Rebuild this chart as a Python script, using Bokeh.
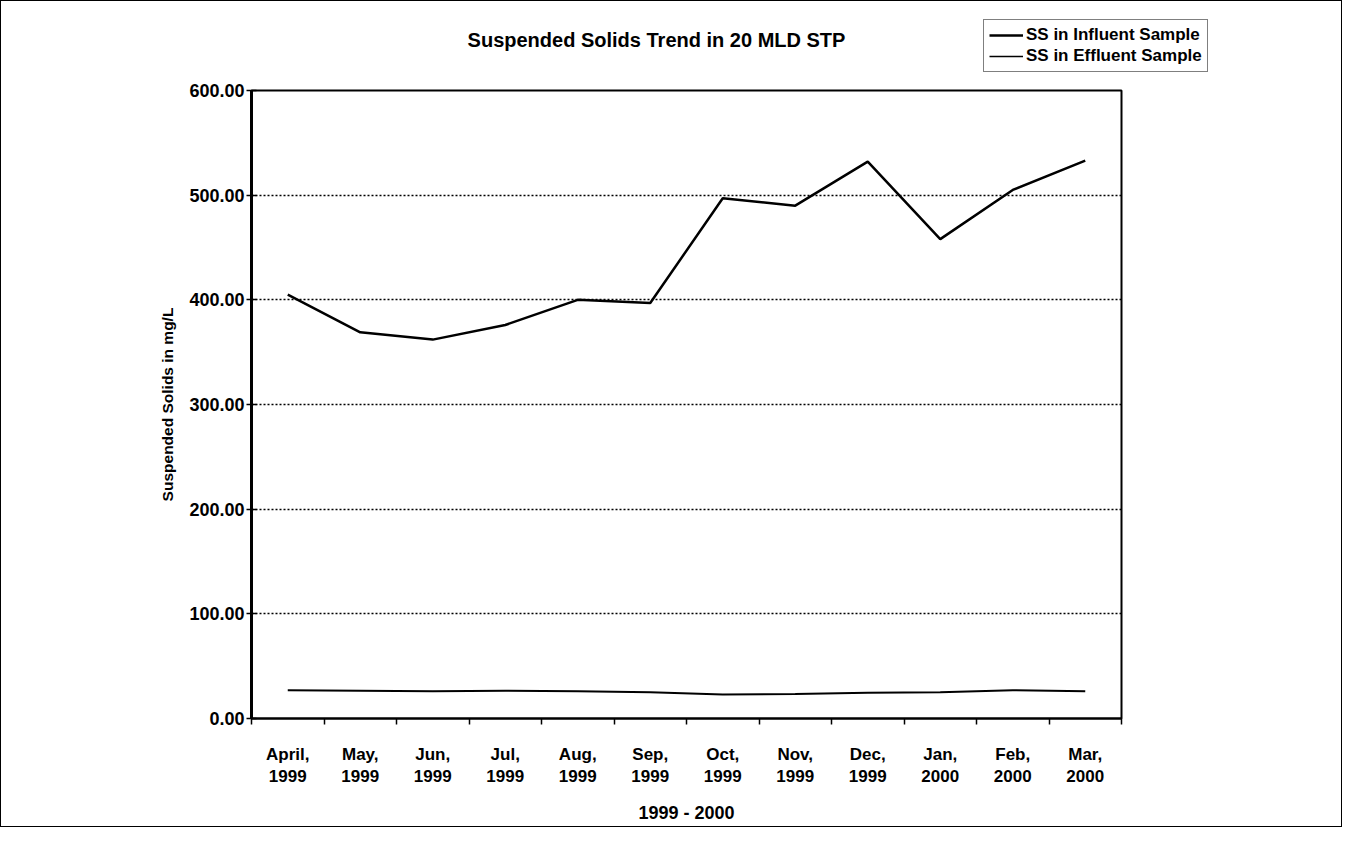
from bokeh.plotting import figure
from bokeh.layouts import column, row
from bokeh.models import (FixedTicker, Label, Legend, LegendItem, Range1d)
from bokeh.embed import file_html
from bokeh.resources import INLINE

# ---- data ----
months = ["April", "May", "Jun", "Jul", "Aug", "Sep", "Oct", "Nov", "Dec", "Jan", "Feb", "Mar"]
years = ["1999", "1999", "1999", "1999", "1999", "1999", "1999", "1999", "1999", "2000", "2000", "2000"]
influent = [405, 369, 362, 376, 400, 397, 497, 490, 532, 458, 505, 533]
effluent = [27, 26.5, 26, 26.5, 26, 25, 23, 23.5, 24.5, 25, 27, 26]
y_ticks = [0, 100, 200, 300, 400, 500, 600]
y_tick_labels = ["0.00", "100.00", "200.00", "300.00", "400.00", "500.00", "600.00"]
series_names = ["SS in Influent Sample", "SS in Effluent Sample"]
title_text = "Suspended Solids Trend in 20 MLD STP"
x_title = "1999 - 2000"
y_title = "Suspended Solids in mg/L"

FONT = "Liberation Sans"
W = 1340
HH = 77            # header height
HM = 748           # main figure height
TW = 981           # width of title part of header
FL, FR, FT, FB = 250, 220, 12, 103

x = list(range(len(months)))


def blank(fig):
    fig.axis.visible = False
    fig.grid.visible = False
    fig.outline_line_color = None


# ---------- header: title ----------
tfig = figure(width=TW, height=HH, output_backend="svg", toolbar_location=None,
              x_range=Range1d(0, TW), y_range=Range1d(0, HH),
              min_border=0, background_fill_color="white", border_fill_color="white")
blank(tfig)
tfig.add_layout(Label(x=655, y=HH - 27, text=title_text,
                      text_align="center", text_baseline="middle",
                      text_font=FONT, text_font_style="bold",
                      text_font_size="20px", text_color="black"))

# ---------- header: legend ----------
lfig = figure(width=W - TW, height=HH, output_backend="svg", toolbar_location=None,
              x_range=Range1d(0, 1), y_range=Range1d(0, 1),
              min_border_left=0, min_border_right=0, min_border_bottom=0, min_border_top=17,
              background_fill_color="white", border_fill_color="white")
blank(lfig)
# legend proxies: kept outside the visible range so only the legend samples show
h1 = lfig.line([-10, -9], [-10, -9], line_color="black", line_width=2.5)
h2 = lfig.line([-10, -9], [-10, -9], line_color="black", line_width=1.5)
legend = Legend(items=[LegendItem(label=series_names[0], renderers=[h1]),
                       LegendItem(label=series_names[1], renderers=[h2])],
                location="top_left", orientation="vertical",
                border_line_color="black", border_line_width=1.5,
                background_fill_color="white", background_fill_alpha=1,
                label_text_font=FONT, label_text_font_style="bold",
                label_text_font_size="17px", label_text_color="black",
                glyph_width=34, glyph_height=20, label_height=20,
                label_standoff=3, spacing=1, padding=5, margin=1)
lfig.add_layout(legend, "center")

# ---------- main chart ----------
p = figure(width=W, height=HM, output_backend="svg", toolbar_location=None,
           x_range=Range1d(-0.5, len(months) - 0.5), y_range=Range1d(0, 600),
           min_border_left=FL, min_border_right=FR, min_border_top=FT, min_border_bottom=FB,
           background_fill_color="white", border_fill_color="white")

p.outline_line_color = "black"
p.outline_line_width = 2

# x axis
xa = p.xaxis[0]
xa.ticker = FixedTicker(ticks=x, minor_ticks=[i - 0.5 for i in range(len(months) + 1)])
xa.major_label_overrides = {i: f"{m},\n{y}" for i, (m, y) in enumerate(zip(months, years))}
xa.major_tick_out = 0
xa.major_tick_in = 0
xa.minor_tick_out = 6
xa.minor_tick_in = 0
xa.minor_tick_line_color = "black"
xa.minor_tick_line_width = 1.5
xa.axis_line_width = 2
xa.axis_line_color = "black"
xa.major_label_standoff = 20
xa.major_label_text_font = FONT
xa.major_label_text_font_style = "bold"
xa.major_label_text_font_size = "17px"
xa.major_label_text_color = "black"
xa.axis_label = x_title
xa.axis_label_standoff = 14
xa.axis_label_text_font = FONT
xa.axis_label_text_font_style = "bold"
xa.axis_label_text_font_size = "18px"
xa.axis_label_text_color = "black"

# y axis
ya = p.yaxis[0]
ya.ticker = FixedTicker(ticks=y_ticks, minor_ticks=[])
ya.major_label_overrides = {t: l for t, l in zip(y_ticks, y_tick_labels)}
ya.major_tick_in = 5
ya.major_tick_out = 5
ya.major_tick_line_width = 1.5
ya.axis_line_width = 3
ya.axis_line_color = "black"
ya.major_label_standoff = 2
ya.major_label_text_font = FONT
ya.major_label_text_font_style = "bold"
ya.major_label_text_font_size = "18px"
ya.major_label_text_color = "black"
ya.axis_label = y_title
ya.axis_label_standoff = 10
ya.axis_label_text_font = FONT
ya.axis_label_text_font_style = "bold"
ya.axis_label_text_font_size = "15.5px"
ya.axis_label_text_color = "black"

# grid
p.xgrid.visible = False
p.ygrid.ticker = FixedTicker(ticks=y_ticks[1:-1], minor_ticks=[])
p.ygrid.grid_line_color = "black"
p.ygrid.grid_line_dash = "2 2"
p.ygrid.grid_line_width = 1.5

# lines
p.line(x, influent, line_color="black", line_width=2.5)
p.line(x, effluent, line_color="black", line_width=2)

layout = column(row(tfig, lfig, spacing=0), p, spacing=0)
layout.styles = {"border": "1.5px solid black"}

open("out.html", "w").write(file_html(layout, INLINE))
